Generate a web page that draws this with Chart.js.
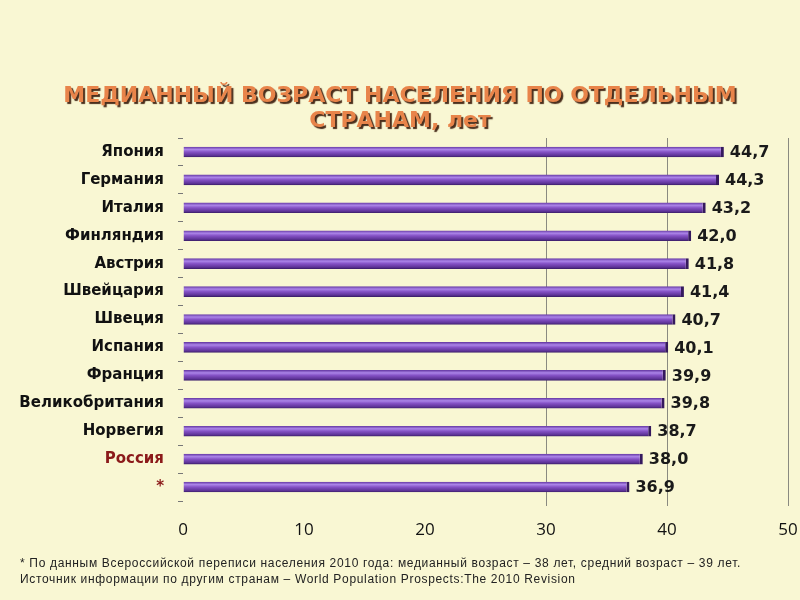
<!DOCTYPE html>
<html>
<head>
<meta charset="utf-8">
<script src="https://cdn.jsdelivr.net/npm/chart.js@4/dist/chart.umd.min.js"></script>
<style>
  html, body { margin: 0; padding: 0; background: #f9f7d3; }
  #wrap { position: relative; width: 800px; height: 600px; overflow: hidden; }
  #chart { position: absolute; left: 0; top: 0; }
  .title {
    position: absolute; left: 0; width: 800px; text-align: center;
    font-family: 'DejaVu Sans', sans-serif; font-weight: bold; font-size: 22px;
    color: #e8844a; text-shadow: 2px 2px 1px #4a2e1c; line-height: 25px;
  }
  .note {
    position: absolute; left: 20px; font-family: 'Liberation Sans', Arial, sans-serif;
    font-size: 12px; letter-spacing: 0.67px; color: #222; line-height: 16px;
  }
</style>
</head>
<body>
<div id="wrap">
  <canvas id="chart" width="800" height="600"></canvas>
  <div class="title" style="top:82px">МЕДИАННЫЙ ВОЗРАСТ НАСЕЛЕНИЯ ПО ОТДЕЛЬНЫМ<br>СТРАНАМ, лет</div>
  <div class="note" style="top:555px">* По данным Всероссийской переписи населения 2010 года: медианный возраст – 38 лет, средний возраст – 39 лет.<br>Источник информации по другим странам – World Population Prospects:The 2010 Revision</div>
</div>
<script>
// Median age by country, years
const countries = ['Япония', 'Германия', 'Италия', 'Финляндия', 'Австрия', 'Швейцария', 'Швеция',
    'Испания', 'Франция', 'Великобритания', 'Норвегия', 'Россия', '*'];
const medianAge = [44.7, 44.3, 43.2, 42.0, 41.8, 41.4, 40.7, 40.1, 39.9, 39.8, 38.7, 38.0, 36.9];
const xTicks = [0, 10, 20, 30, 40, 50];
const highlighted = ['Россия', '*'];

// bar gradient, built per bar so it looks like a tube
function barFill(context) {
    const chart = context.chart;
    const yScale = chart.scales && chart.scales.y;
    if (!chart.chartArea || !yScale) return '#7a48b8';
    const yc = yScale.getPixelForValue(context.dataIndex);
    const g = chart.ctx.createLinearGradient(0, yc - 5, 0, yc + 5);
    g.addColorStop(0, '#6a3da8');
    g.addColorStop(0.25, '#ab84e8');
    g.addColorStop(0.5, '#8552c6');
    g.addColorStop(0.85, '#5e3398');
    g.addColorStop(1, '#3e1f6c');
    return g;
}

// value labels to the right of each bar
const valueLabels = {
    id: 'valueLabels',
    afterDatasetsDraw(chart) {
        const ctx = chart.ctx;
        const meta = chart.getDatasetMeta(0);
        ctx.save();
        ctx.font = 'bold 16px "DejaVu Sans", sans-serif';
        ctx.fillStyle = '#1a1a1a';
        ctx.textAlign = 'left';
        ctx.textBaseline = 'middle';
        meta.data.forEach((bar, i) => {
            ctx.fillText(medianAge[i].toFixed(1).replace('.', ','), bar.x + 6, bar.y + 1);
        });
        ctx.restore();
    }
};

new Chart(document.getElementById('chart'), {
    type: 'bar',
    data: {
        labels: countries,
        datasets: [{
            data: medianAge,
            backgroundColor: barFill,
            borderColor: '#35195e',
            borderWidth: { top: 0, right: 3, bottom: 0, left: 0 },
            borderSkipped: false,
            barPercentage: 0.38,
            categoryPercentage: 1
        }]
    },
    options: {
        indexAxis: 'y',
        responsive: false,
        animation: false,
        layout: { padding: { left: 8, right: 12, top: 138, bottom: 55 } },
        plugins: {
            legend: { display: false },
            tooltip: { enabled: false }
        },
        scales: {
            x: {
                min: 0,
                max: 50,
                afterBuildTicks: (scale) => { scale.ticks = xTicks.map(v => ({ value: v })); },
                afterFit: (scale) => {
                    scale.height = 44;
                    scale.paddingLeft = 0;
                    scale.paddingRight = 0;
                },
                border: { display: false },
                grid: {
                    color: (c) => (c.tick && c.tick.value >= 30 ? '#8a8a80' : 'rgba(0,0,0,0)'),
                    lineWidth: 1,
                    tickLength: 5
                },
                ticks: {
                    color: '#111',
                    padding: 14,
                    font: { family: 'Open Sans', size: 17 }
                }
            },
            y: {
                afterFit: (scale) => { scale.width = 175; },
                border: { display: false },
                grid: {
                    drawOnChartArea: false,
                    color: '#777',
                    tickLength: 5
                },
                ticks: {
                    padding: 14,
                    color: (c) => (highlighted.includes(countries[c.index]) ? '#8b1a1a' : '#111'),
                    font: { family: 'DejaVu Sans', size: 15, weight: 'bold' }
                }
            }
        }
    },
    plugins: [valueLabels]
});
</script>
</body>
</html>
